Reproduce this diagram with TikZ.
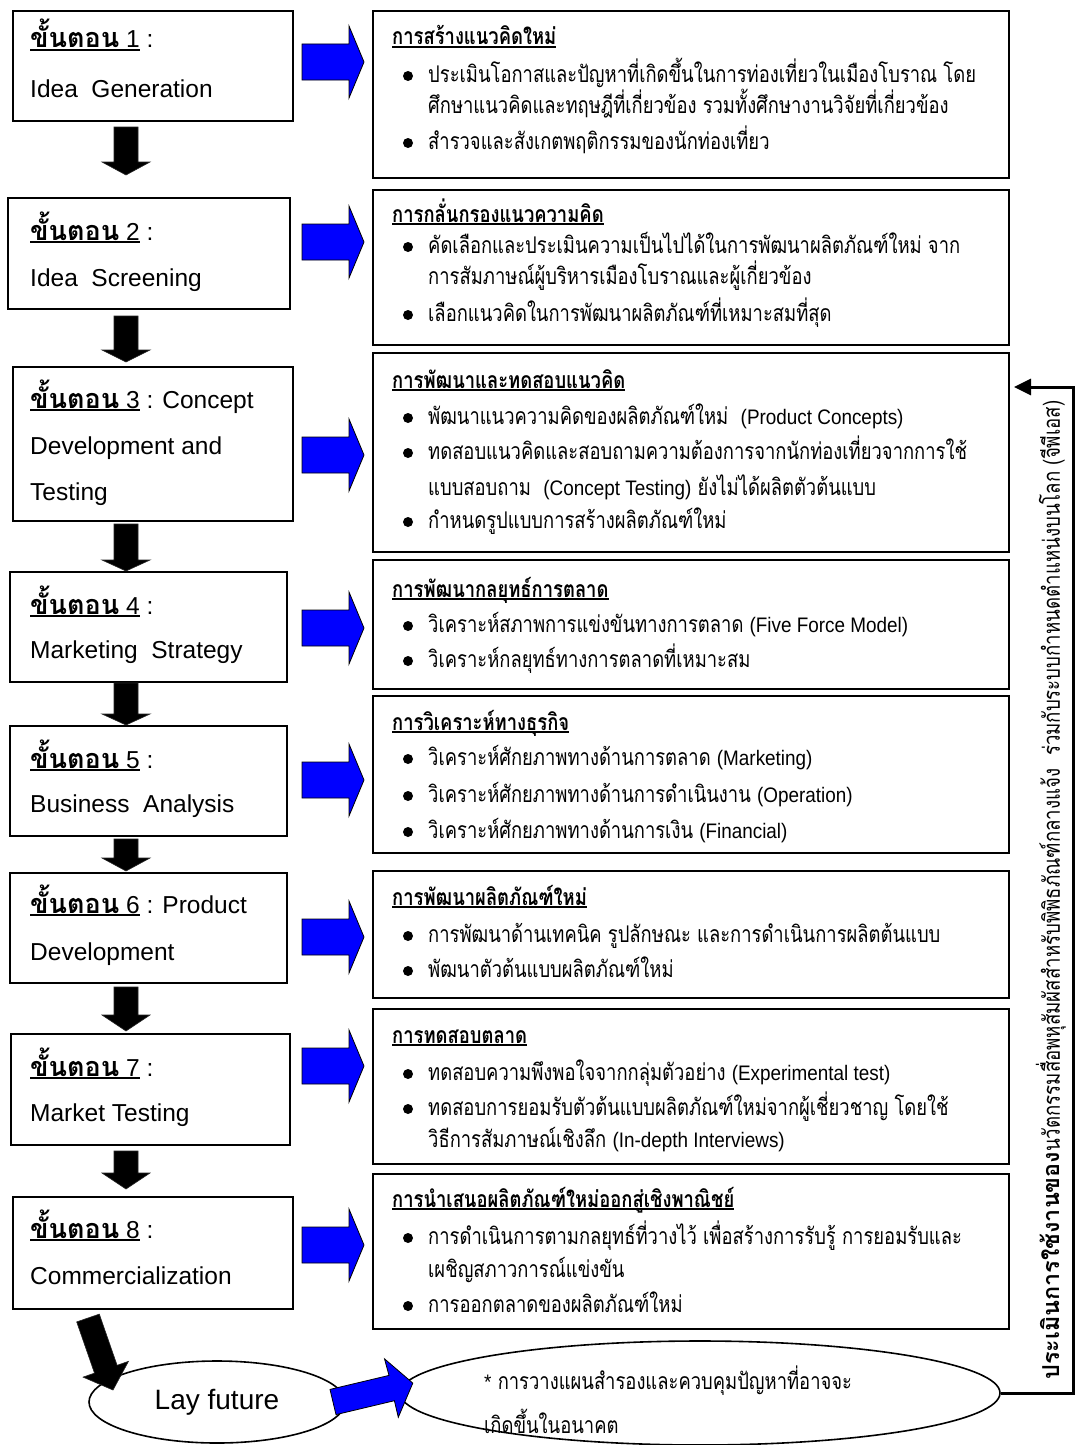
\documentclass[tikz,border=0pt]{standalone}
\usepackage{fontspec}
\usetikzlibrary{shapes.geometric,arrows.meta}
\setmainfont{Liberation Sans}
\newfontfamily\thaistepfont[Script=Thai]{Loma}
\newfontfamily\thaibodyfont[Script=Thai,FakeStretch=0.8]{Loma}
\newfontfamily\latbodyfont[FakeStretch=0.9]{Liberation Sans}

% underline drawn as a rule below a saved box
\newsavebox\ulbox
\newcommand\ul[1]{\sbox\ulbox{#1}\rlap{\rule[-2.6pt]{\wd\ulbox}{1.2pt}}\usebox\ulbox}
\newcommand\en[1]{{\latbodyfont\fontsize{21}{24}\selectfont #1}}
\newcommand\stp[1]{\ul{{\thaistepfont\bfseries\fontsize{27}{30}\selectfont ขั้นตอน} #1}}

\tikzset{
  stepbox/.style={draw, line width=1.8pt, anchor=north west, inner sep=0pt},
  infobox/.style={draw, line width=2pt, anchor=north west, inner sep=0pt},
  steptext/.style={anchor=base west, inner sep=0pt, font=\fontsize{24.5}{28}\selectfont},
  hdtext/.style={anchor=base west, inner sep=0pt, font=\thaibodyfont\bfseries\fontsize{23}{26}\selectfont},
  bodytext/.style={anchor=base west, inner sep=0pt, font=\thaibodyfont\fontsize{23}{26}\selectfont},
  dot/.style={circle, fill=black, inner sep=0pt, minimum size=10pt},
  bluearrow/.style={fill=blue, draw=black, line width=0.8pt, line join=miter},
  blackarrow/.style={fill=black, draw=black!85, line width=0.6pt},
  oval/.style={ellipse, draw, line width=1.6pt, inner sep=0pt},
}

% block arrows
\newcommand\bluearr[1]{\draw[bluearrow] (302,#1-18) -- (349,#1-18) -- (349,#1-36) -- (364,#1) -- (349,#1+36) -- (349,#1+18) -- (302,#1+18) -- cycle;}
\newcommand\downarr[3]{\fill[blackarrow] (114,#1) -- (138,#1) -- (138,#2) -- (150,#2) -- (126,#3) -- (102,#2) -- (114,#2) -- cycle;}

% lines inside the description boxes
\newcommand\hd[3]{\node[hdtext] (#1) at (392,#2) {\ul{#3}};}
\newcommand\bl[3]{\node[dot] (#1b) at (408,#2-6) {}; \node[bodytext] (#1) at (428,#2) {#3};}
\newcommand\cl[3]{\node[bodytext] (#1) at (428,#2) {#3};}

\begin{document}
\begin{tikzpicture}[x=1pt, y=-1pt]
\fill[white] (0,0) rectangle (1076,1445);
\useasboundingbox (0,0) rectangle (1076,1445);

% ---------- step boxes ----------
\node[stepbox, minimum width=280pt, minimum height=110pt] (s1) at (12,10) {};
\node[stepbox, minimum width=282pt, minimum height=111pt] (s2) at (7,197) {};
\node[stepbox, minimum width=280pt, minimum height=154pt] (s3) at (12,366) {};
\node[stepbox, minimum width=277pt, minimum height=110pt] (s4) at (9,571) {};
\node[stepbox, minimum width=277pt, minimum height=110pt] (s5) at (9,725) {};
\node[stepbox, minimum width=277pt, minimum height=110pt] (s6) at (9,872) {};
\node[stepbox, minimum width=279pt, minimum height=111pt] (s7) at (10,1033) {};
\node[stepbox, minimum width=280pt, minimum height=112pt] (s8) at (12,1196) {};

\node[steptext] (s1a) at (30,48) {\stp{1} :};
\node[steptext] (s1b) at (30,97) {Idea~~Generation};
\node[steptext] (s2a) at (30,240) {\stp{2} :};
\node[steptext] (s2b) at (30,286) {Idea~~Screening};
\node[steptext] (s3a) at (30,408) {\stp{3} : Concept};
\node[steptext] (s3b) at (30,454) {Development and};
\node[steptext] (s3c) at (30,500) {Testing};
\node[steptext] (s4a) at (30,614) {\stp{4} :};
\node[steptext] (s4b) at (30,658) {Marketing~~Strategy};
\node[steptext] (s5a) at (30,768) {\stp{5} :};
\node[steptext] (s5b) at (30,812) {Business~~Analysis};
\node[steptext] (s6a) at (30,913) {\stp{6} : Product};
\node[steptext] (s6b) at (30,960) {Development};
\node[steptext] (s7a) at (30,1076) {\stp{7} :};
\node[steptext] (s7b) at (30,1121) {Market Testing};
\node[steptext] (s8a) at (30,1238) {\stp{8} :};
\node[steptext] (s8b) at (30,1284) {Commercialization};

% downward arrows between the steps
\downarr{127}{162}{175}
\downarr{316}{350}{362}
\downarr{524}{560}{571}
\downarr{683}{714}{725}
\downarr{839}{858}{871}
\downarr{987}{1015}{1031}
\downarr{1151}{1173}{1189}

% ---------- description boxes ----------
\node[infobox, minimum width=636pt, minimum height=167pt] (r1) at (372,10) {};
\node[infobox, minimum width=636pt, minimum height=155pt] (r2) at (372,189) {};
\node[infobox, minimum width=636pt, minimum height=199pt] (r3) at (372,352) {};
\node[infobox, minimum width=636pt, minimum height=129pt] (r4) at (372,559) {};
\node[infobox, minimum width=636pt, minimum height=157pt] (r5) at (372,695) {};
\node[infobox, minimum width=636pt, minimum height=127pt] (r6) at (372,870) {};
\node[infobox, minimum width=636pt, minimum height=155pt] (r7) at (372,1008) {};
\node[infobox, minimum width=636pt, minimum height=155pt] (r8) at (372,1173) {};

% arrows from steps to descriptions
\bluearr{62}
\bluearr{242}
\bluearr{455}
\bluearr{628}
\bluearr{780}
\bluearr{937}
\bluearr{1066}
\bluearr{1245}

\hd{r1h}{45}{การสร้างแนวคิดใหม่}
\bl{r1a}{82}{ประเมินโอกาสและปัญหาที่เกิดขึ้นในการท่องเที่ยวในเมืองโบราณ โดย}
\cl{r1b}{113}{ศึกษาแนวคิดและทฤษฎีที่เกี่ยวข้อง รวมทั้งศึกษางานวิจัยที่เกี่ยวข้อง}
\bl{r1c}{149}{สำรวจและสังเกตพฤติกรรมของนักท่องเที่ยว}

\hd{r2h}{222}{การกลั่นกรองแนวความคิด}
\bl{r2a}{253}{คัดเลือกและประเมินความเป็นไปได้ในการพัฒนาผลิตภัณฑ์ใหม่ จาก}
\cl{r2b}{284}{การสัมภาษณ์ผู้บริหารเมืองโบราณและผู้เกี่ยวข้อง}
\bl{r2c}{321}{เลือกแนวคิดในการพัฒนาผลิตภัณฑ์ที่เหมาะสมที่สุด}

\hd{r3h}{388}{การพัฒนาและทดสอบแนวคิด}
\bl{r3a}{424}{พัฒนาแนวความคิดของผลิตภัณฑ์ใหม่~~\en{(Product Concepts)}}
\bl{r3b}{459}{ทดสอบแนวคิดและสอบถามความต้องการจากนักท่องเที่ยวจากการใช้}
\cl{r3c}{495}{แบบสอบถาม~~\en{(Concept Testing)} ยังไม่ได้ผลิตตัวต้นแบบ}
\bl{r3d}{528}{กำหนดรูปแบบการสร้างผลิตภัณฑ์ใหม่}

\hd{r4h}{597}{การพัฒนากลยุทธ์การตลาด}
\bl{r4a}{632}{วิเคราะห์สภาพการแข่งขันทางการตลาด \en{(Five Force Model)}}
\bl{r4b}{667}{วิเคราะห์กลยุทธ์ทางการตลาดที่เหมาะสม}

\hd{r5h}{730}{การวิเคราะห์ทางธุรกิจ}
\bl{r5a}{765}{วิเคราะห์ศักยภาพทางด้านการตลาด \en{(Marketing)}}
\bl{r5b}{802}{วิเคราะห์ศักยภาพทางด้านการดำเนินงาน \en{(Operation)}}
\bl{r5c}{838}{วิเคราะห์ศักยภาพทางด้านการเงิน \en{(Financial)}}

\hd{r6h}{905}{การพัฒนาผลิตภัณฑ์ใหม่}
\bl{r6a}{942}{การพัฒนาด้านเทคนิค รูปลักษณะ และการดำเนินการผลิตต้นแบบ}
\bl{r6b}{977}{พัฒนาตัวต้นแบบผลิตภัณฑ์ใหม่}

\hd{r7h}{1043}{การทดสอบตลาด}
\bl{r7a}{1080}{ทดสอบความพึงพอใจจากกลุ่มตัวอย่าง \en{(Experimental test)}}
\bl{r7b}{1115}{ทดสอบการยอมรับตัวต้นแบบผลิตภัณฑ์ใหม่จากผู้เชี่ยวชาญ โดยใช้}
\cl{r7c}{1147}{วิธีการสัมภาษณ์เชิงลึก \en{(In-depth Interviews)}}

\hd{r8h}{1207}{การนำเสนอผลิตภัณฑ์ใหม่ออกสู่เชิงพาณิชย์}
\bl{r8a}{1244}{การดำเนินการตามกลยุทธ์ที่วางไว้ เพื่อสร้างการรับรู้ การยอมรับและ}
\cl{r8b}{1277}{เผชิญสภาวการณ์แข่งขัน}
\bl{r8c}{1312}{การออกตลาดของผลิตภัณฑ์ใหม่}

% ---------- bottom ovals ----------
\node[oval, minimum width=256pt, minimum height=82pt, font=\fontsize{28}{31}\selectfont] (lay) at (217,1402) {Lay future};
\node[oval, minimum width=600pt, minimum height=104pt] (plan) at (700,1393) {};
\node[bodytext] (plana) at (484,1389) {\en{*} การวางแผนสำรองและควบคุมปัญหาที่อาจจะ};
\node[bodytext] (planb) at (484,1433) {เกิดขึ้นในอนาคต};

% arrow into the first oval
\fill[blackarrow] (99.3,1314.1) -- (117.1,1365.3) -- (128.5,1361.3) -- (113,1390) -- (83.1,1377.1) -- (94.5,1373.1) -- (76.7,1321.9) -- cycle;
% arrow between the ovals
\draw[bluearrow] (330,1389.4) -- (389,1375.4) -- (384.5,1358.8) -- (412.8,1383.1) -- (398.3,1417.3) -- (394.4,1400.7) -- (336,1414.6) -- cycle;

% ---------- feedback loop ----------
\coordinate (fbcorner) at (1073,387);
\coordinate (fbtip) at (1014,387);
\draw[line width=3pt, -{Triangle[length=17pt,width=16pt]}] (plan.east) -| (fbcorner) -- (fbtip);
\node[rotate=90, inner sep=0pt, font=\fontsize{23.3}{26}\selectfont] (vtext) at (1051,890)
  {{\thaistepfont\bfseries ประเมินการใช้งานของ}{\thaibodyfont นวัตกรรมสื่อพหุสัมผัสสำหรับพิพิธภัณฑ์กลางแจ้ง~~ร่วมกับระบบกำหนดตำแหน่งบนโลก (จีพีเอส)}};
\end{tikzpicture}
\end{document}
